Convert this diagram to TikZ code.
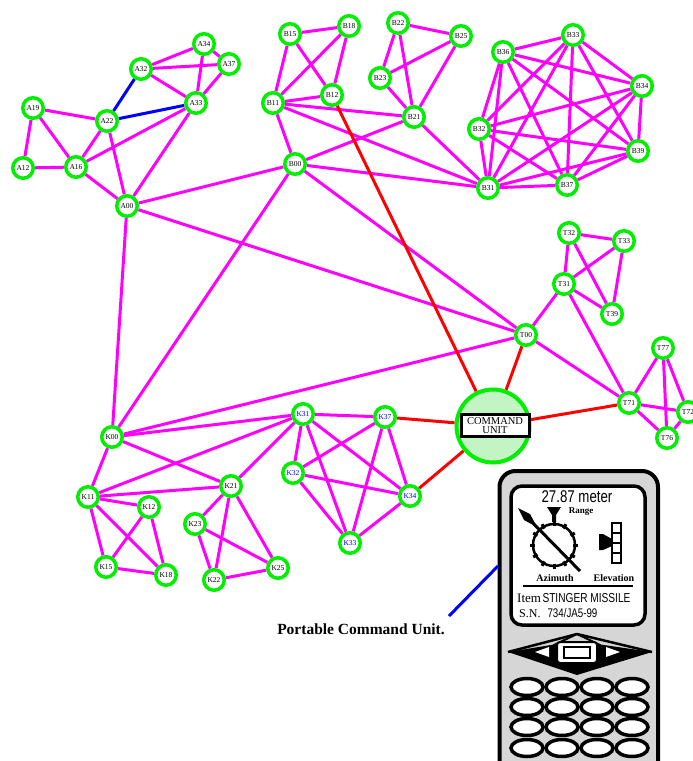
\documentclass[tikz,border=0pt]{standalone}
\usepackage{fontspec}
\setmainfont{Liberation Serif}
\newfontfamily\narrowsans[FakeStretch=0.78]{Liberation Sans}

\definecolor{nodegreen}{RGB}{0,238,0}
\definecolor{linkpink}{RGB}{255,0,255}
\definecolor{linkred}{RGB}{255,0,0}
\definecolor{linkblue}{RGB}{0,0,255}
\definecolor{unitfill}{RGB}{195,244,195}
\definecolor{devgray}{RGB}{214,214,214}

\pgfdeclarelayer{edges}
\pgfsetlayers{edges,main}

\tikzset{
  vtx/.style={circle, draw=nodegreen, line width=3.5pt, fill=white,
    minimum size=20.5pt, inner sep=0pt, font=\fontsize{7.5}{8}\selectfont},
  bluevtx/.style={vtx, text=linkblue},
  link/.style={draw=linkpink, line width=3pt},
  bluelink/.style={draw=linkblue, line width=3pt},
  redlink/.style={draw=linkred, line width=3pt},
}

\begin{document}
\begin{tikzpicture}[x=1pt,y=-1pt]
\useasboundingbox (0,0) rectangle (693,761);
\clip (0,0) rectangle (693,761);

% ---- A group
\node[vtx] (A34) at (204,44) {A34};
\node[vtx] (A37) at (229,64) {A37};
\node[vtx] (A32) at (141,69) {A32};
\node[vtx] (A33) at (196,103) {A33};
\node[vtx] (A19) at (33,108) {A19};
\node[vtx] (A22) at (107,121) {A22};
\node[vtx] (A12) at (23,168) {A12};
\node[vtx] (A16) at (76,167) {A16};
\node[vtx] (A00) at (127,206) {A00};

% ---- B group
\node[vtx] (B15) at (290,34) {B15};
\node[vtx] (B18) at (349,26) {B18};
\node[vtx] (B22) at (398,23) {B22};
\node[vtx] (B25) at (461,36) {B25};
\node[vtx] (B23) at (380,78) {B23};
\node[vtx] (B11) at (273,103) {B11};
\node[vtx] (B12) at (332,95) {B12};
\node[vtx] (B21) at (414,117) {B21};
\node[vtx] (B00) at (295,164) {B00};

% ---- B3 group
\node[vtx] (B33) at (573,35) {B33};
\node[vtx] (B36) at (503,52) {B36};
\node[vtx] (B34) at (642,86) {B34};
\node[vtx] (B32) at (479,129) {B32};
\node[vtx] (B39) at (638,151) {B39};
\node[vtx] (B31) at (488,188) {B31};
\node[vtx] (B37) at (567,185) {B37};

% ---- T group
\node[vtx] (T32) at (569,233) {T32};
\node[vtx] (T33) at (624,241) {T33};
\node[vtx] (T31) at (564,284) {T31};
\node[vtx] (T39) at (612,314) {T39};
\node[vtx] (T00) at (526,335) {T00};
\node[vtx] (T77) at (663,348) {T77};
\node[vtx] (T71) at (629,403) {T71};
\node[vtx] (T72) at (688,412) {T72};
\node[vtx] (T76) at (667,438) {T76};

% ---- K group
\node[vtx] (K00) at (112,437) {K00};
\node[vtx] (K11) at (88,497) {K11};
\node[vtx] (K12) at (149,507) {K12};
\node[vtx] (K21) at (231,486) {K21};
\node[vtx] (K23) at (195,524) {K23};
\node[vtx] (K15) at (106,567) {K15};
\node[vtx] (K18) at (166,575) {K18};
\node[vtx] (K22) at (214,580) {K22};
\node[vtx] (K25) at (278,568) {K25};

% ---- K3 group
\node[bluevtx] (K31) at (303,414) {K31};
\node[bluevtx] (K37) at (385,417) {K37};
\node[bluevtx] (K32) at (293,473) {K32};
\node[bluevtx] (K34) at (410,496) {K34};
\node[bluevtx] (K33) at (350,543) {K33};

% ---- command unit
\node[circle, draw=nodegreen, line width=4pt, fill=unitfill,
      minimum size=73pt, inner sep=0pt] (CU) at (493,426) {};
\node[draw=black, line width=3pt, fill=white, minimum width=68pt,
      minimum height=22pt, inner sep=1pt, align=center,
      font=\fontsize{10.5}{9.5}\selectfont] (CUbox) at (495,425.5) {COMMAND\\UNIT};

\begin{pgfonlayer}{edges}
  \foreach \a/\b in {A34/A32, A34/A37, A34/A33, A32/A37, A32/A33, A37/A33,
      A19/A22, A19/A12, A19/A16, A12/A16, A16/A22, A16/A33, A22/A00,
      A33/A00, A16/A00, A00/B00, A00/T00, A00/K00,
      B15/B18, B15/B11, B15/B12, B18/B11, B18/B12, B11/B12, B11/B21,
      B11/B00, B11/B31, B22/B25, B22/B23, B22/B21, B25/B23, B25/B21,
      B23/B21, B21/B00, B21/B31, B00/B31, B00/K00, B00/T00,
      T32/T33, T32/T31, T32/T39, T33/T31, T33/T39, T31/T39, T31/T00,
      T31/T71, T00/T71, T77/T71, T77/T72, T77/T76, T71/T72, T71/T76,
      T72/T76, T00/K00,
      K00/K11, K00/K21, K00/K31, K11/K31, K11/K21, K11/K12, K11/K15,
      K11/K18, K12/K15, K12/K18, K15/K18, K21/K31, K21/K23, K21/K22,
      K21/K25, K23/K22, K23/K25, K22/K25,
      K31/K37, K31/K32, K31/K33, K31/K34, K37/K32, K37/K33, K37/K34,
      K32/K34, K32/K33, K33/K34}
    \draw[link] (\a) -- (\b);
  % fully meshed B3 group
  \foreach \a/\b in {B33/B36, B33/B34, B33/B32, B33/B39, B33/B31, B33/B37,
      B36/B34, B36/B32, B36/B39, B36/B31, B36/B37,
      B34/B32, B34/B39, B34/B31, B34/B37,
      B32/B39, B32/B31, B32/B37,
      B39/B31, B39/B37, B31/B37}
    \draw[link] (\a) -- (\b);
  \draw[bluelink] (A22) -- (A32);
  \draw[bluelink] (A22) -- (A33);
  \foreach \a in {B12, T00, T71, K37, K34}
    \draw[redlink] (\a) -- (CU);
\end{pgfonlayer}

% ---- portable unit body
\draw[line width=4pt, fill=devgray, rounded corners=16pt] (499.5,471) rectangle (658,800);
\draw[line width=3.5pt, fill=white, rounded corners=11pt] (511,486) rectangle (645,625);

\node[font=\narrowsans\fontsize{17}{17}\selectfont, inner sep=0pt] (dist) at (577,497) {27.87 meter};
\node[font=\bfseries\fontsize{9}{9}\selectfont, inner sep=0pt] (rangelbl) at (581,512) {Range};

% azimuth dial
\draw[line width=2.5pt] (554,545) circle (21pt);
\foreach \ang in {0,30,...,330}
  \draw[line width=3pt] (554,545) ++(\ang:19) -- ++(\ang:5);
\draw[line width=3pt] (527,517) -- (580,571);
\fill (518,508) -- (530,514) -- (537,527) -- (524,520) -- cycle;
\fill (547,507) -- (561,507) -- (556,515) -- (556,522) -- (552,522) -- (552,515) -- cycle;

% elevation gauge
\draw[line width=2.5pt] (612,523) rectangle (621,563);
\foreach \ry in {533,543,553}
  \draw[line width=2.5pt] (612,\ry) -- (621,\ry);
\fill (599,534) -- (603,534) -- (612,539) -- (612,546) -- (603,550) -- (599,550) -- cycle;

\node[font=\bfseries\fontsize{10}{10}\selectfont, inner sep=0pt] (azlbl) at (555,578) {Azimuth};
\node[font=\bfseries\fontsize{10}{10}\selectfont, inner sep=0pt] (ellbl) at (614,578) {Elevation};
\draw[line width=2.5pt] (523,586) -- (633,586);
\node[anchor=west, inner sep=0pt] (item) at (517,598)
  {{\fontsize{13}{13}\selectfont Item}\hspace{1.5pt}{\narrowsans\fontsize{13}{13}\selectfont STINGER MISSILE}};
\node[anchor=west, inner sep=0pt] (serial) at (519,613)
  {{\fontsize{12}{12}\selectfont S.N.}\hspace{7pt}{\narrowsans\fontsize{12.5}{12.5}\selectfont 734/JA5-99}};

% navigation pad
\fill (508,652) -- (557,644) -- (597,644) -- (652,652) -- (577,675) -- cycle;
\draw[line width=2pt, line join=round, fill=devgray] (554,645) -- (577,634) -- (600,645) -- cycle;
\draw[line width=2.5pt, line join=round] (508,652) -- (577,634) -- (652,652);
\fill[white] (535,652) -- (549,647) -- (549,657) -- cycle;
\fill[white] (620,652) -- (606,647) -- (606,657) -- cycle;
\draw[line width=2pt, fill=white, rounded corners=3pt] (557,642) rectangle (597,663);
\draw[line width=2pt, fill=white] (564,647) rectangle (590,658);

% keypad
\foreach \bx in {527,562,597,632}
  \foreach \by in {687,707,727,748}
    \draw[line width=3.5pt, fill=white] (\bx,\by) ellipse (16pt and 8.5pt);

% caption and pointer
\node[font=\bfseries\fontsize{15.5}{16}\selectfont, inner sep=0pt] (caption) at (361,629) {Portable Command Unit.};
\coordinate (ptrtip) at (449,616);
\coordinate (ptrend) at (498,566);
\draw[bluelink] (ptrtip) -- (ptrend);
\end{tikzpicture}
\end{document}
